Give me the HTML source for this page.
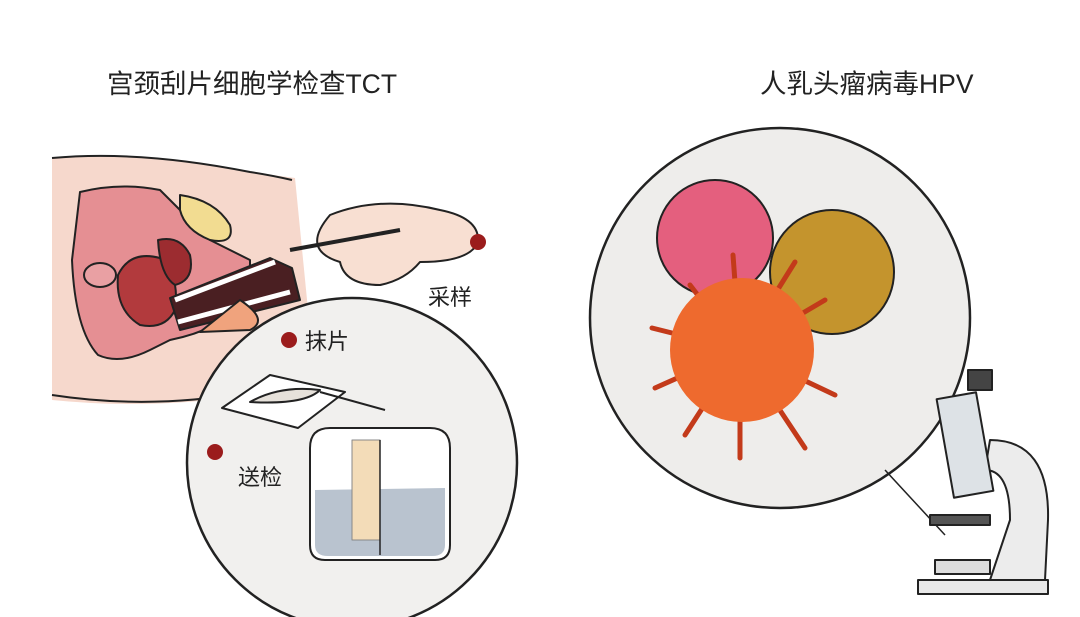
<!DOCTYPE html>
<html><head><meta charset="utf-8"><style>
html,body{margin:0;padding:0;background:#fff;width:1080px;height:617px;overflow:hidden}
text{font-family:"Liberation Sans","Noto Sans CJK SC",sans-serif;fill:#222}
</style></head><body>
<svg width="1080" height="617" viewBox="0 0 1080 617" stroke="#222" stroke-width="2" stroke-linejoin="round">
<text x="107" y="93" font-size="26.5" stroke="none">宫颈刮片细胞学检查TCT</text>
<text x="760" y="93" font-size="26.5" stroke="none">人乳头瘤病毒HPV</text>
<!-- body -->
<path d="M52 158 Q140 150 250 172 L295 178 L310 330 L250 395 Q150 410 52 400 Z" fill="#f6d8cc" stroke="none"/>
<path d="M52 158 Q140 150 250 172 Q270 175 292 180" fill="none"/>
<path d="M52 395 Q150 410 250 392" fill="none"/>
<path d="M80 192 Q120 182 160 190 L210 240 L250 260 L250 300 Q220 330 170 340 L150 350 Q120 365 98 355 Q75 330 72 260 Z" fill="#e58f93"/>
<path d="M180 195 Q215 200 230 225 Q235 245 210 240 Q185 230 180 210 Z" fill="#f2dc91"/>
<path d="M118 275 Q130 250 160 258 Q180 275 175 310 Q165 330 140 325 Q115 310 118 275 Z" fill="#b23a3d"/>
<path d="M158 240 Q180 235 190 255 Q195 280 175 285 Q160 275 158 240 Z" fill="#9c2c30"/>
<ellipse cx="100" cy="275" rx="16" ry="12" fill="#e9a0a3"/>
<path d="M170 298 L270 258 L292 268 L300 300 L180 330 Z" fill="#4a1f22"/>
<path d="M175 300 L275 262" stroke="#fff" stroke-width="5"/>
<path d="M178 322 L290 292" stroke="#fff" stroke-width="5"/>
<path d="M240 300 Q270 320 250 330 L200 332 Z" fill="#f0a37d"/>
<!-- hand -->
<path d="M330 215 Q380 195 440 210 Q480 218 478 242 Q470 262 420 262 Q405 280 380 285 Q345 285 340 262 Q300 250 330 215 Z" fill="#f8dfd2"/>
<path d="M290 250 L400 230" stroke-width="4"/>
<circle cx="478" cy="242" r="8" fill="#9b1c1c" stroke="none"/>
<text x="428" y="305" font-size="22" stroke="none">采样</text>
<!-- left circle -->
<circle cx="352" cy="463" r="165" fill="#f1f0ee" stroke-width="2.5"/>
<circle cx="289" cy="340" r="8" fill="#9b1c1c" stroke="none"/>
<text x="305" y="349" font-size="22" stroke="none">抹片</text>
<path d="M222 408 L270 375 L345 392 L298 428 Z" fill="#fff"/>
<path d="M250 402 Q280 385 320 390 Q305 405 250 402 Z" fill="#e6e1da"/>
<path d="M320 392 L385 410" stroke-width="2"/>
<circle cx="215" cy="452" r="8" fill="#9b1c1c" stroke="none"/>
<text x="238" y="485" font-size="22" stroke="none">送检</text>
<path d="M310 448 Q310 428 330 428 L430 428 Q450 428 450 448 L450 545 Q450 560 435 560 L325 560 Q310 560 310 545 Z" fill="#ffffff"/>
<path d="M315 490 L445 488 L445 545 Q445 556 432 556 L328 556 Q315 556 315 545 Z" fill="#b9c3cf" stroke="none"/>
<rect x="352" y="440" width="28" height="100" fill="#f3dcb8" stroke="#888" stroke-width="1"/>
<path d="M380 440 L380 555" stroke-width="1.5"/>
<!-- right circle -->
<circle cx="780" cy="318" r="190" fill="#eeedeb" stroke-width="2.5"/>
<circle cx="715" cy="238" r="58" fill="#e45f7e"/>
<circle cx="832" cy="272" r="62" fill="#c4942d"/>
<g stroke="#c33a1a" stroke-width="5" stroke-linecap="round">
<path d="M740 350 L652 328 M740 350 L655 388 M740 350 L685 435 M740 350 L740 458 M740 350 L805 448 M740 350 L835 395 M740 350 L825 300 M740 350 L795 262 M740 350 L733 255 M740 350 L690 285"/>
</g>
<circle cx="742" cy="350" r="72" fill="#ee6a2e" stroke="none"/>
<!-- microscope -->
<path d="M885 470 L945 535" stroke-width="1.5"/>
<rect x="918" y="580" width="130" height="14" fill="#e8e8e8"/>
<path d="M990 440 Q1050 440 1048 520 L1045 580 L990 580 L1010 520 Q1010 470 985 470 Z" fill="#ececec"/>
<rect x="945" y="395" width="40" height="100" fill="#dde2e6" transform="rotate(-10 965 445)"/>
<rect x="968" y="370" width="24" height="20" fill="#444"/>
<rect x="930" y="515" width="60" height="10" fill="#555"/>
<rect x="935" y="560" width="55" height="14" fill="#ddd"/>
</svg>
</body></html>
